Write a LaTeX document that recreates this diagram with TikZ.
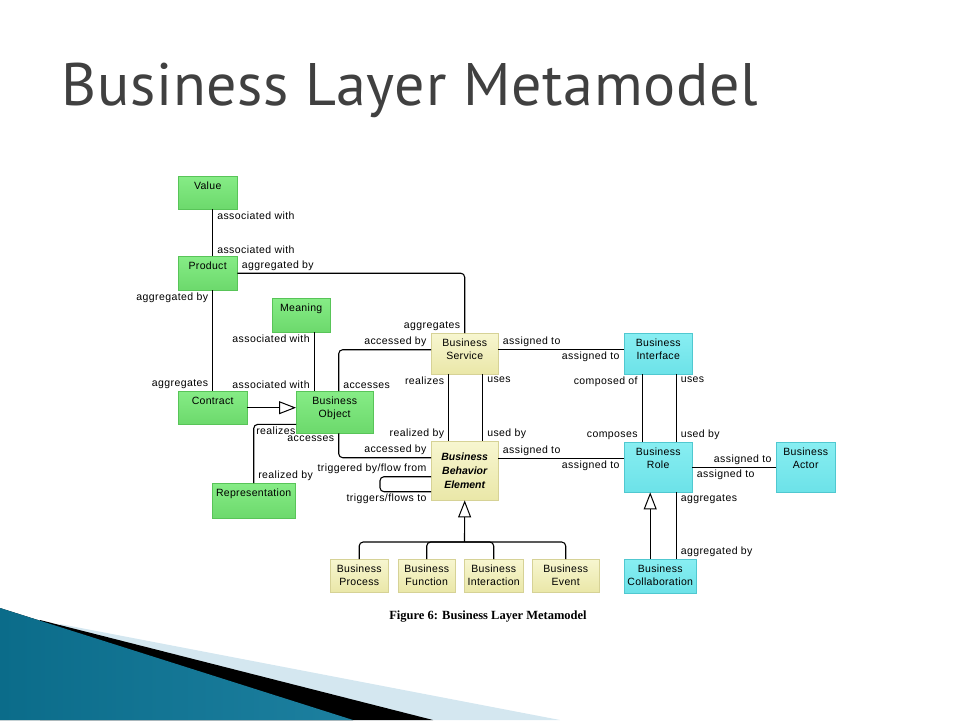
\documentclass[tikz,border=0pt]{standalone}
\usepackage{fontspec}
\setmainfont{Liberation Sans}
\newfontfamily\titlefont[LetterSpace=1.2]{PT Sans}
\newfontfamily\capfont{Liberation Serif}
\usetikzlibrary{arrows.meta}

\definecolor{gtop}{HTML}{86EC86}
\definecolor{gbot}{HTML}{6CD96C}
\definecolor{gline}{HTML}{58C458}
\definecolor{ytop}{HTML}{F7F6D0}
\definecolor{ybot}{HTML}{EAE7A8}
\definecolor{yline}{HTML}{D6D296}
\definecolor{ctop}{HTML}{88EEF2}
\definecolor{cbot}{HTML}{6CE2E8}
\definecolor{cline}{HTML}{50C8D0}
\definecolor{titlegray}{HTML}{404040}
\definecolor{swdark}{HTML}{0B6C8A}
\definecolor{swmid}{HTML}{45AED2}
\definecolor{swlight}{HTML}{D4E7F0}

% top-aligned stack of lines inside a box
\newcommand{\stacked}[1]{\begin{tabular}[t]{@{}c@{}}#1\end{tabular}}

\tikzset{
  box/.style={draw, anchor=north west, inner sep=2pt, text height=11pt,
    font=\fontsize{10.5}{13}\selectfont\addfontfeatures{LetterSpace=3}},
  gbox/.style={box, draw=gline, top color=gtop, bottom color=gbot},
  ybox/.style={box, draw=yline, top color=ytop, bottom color=ybot},
  cbox/.style={box, draw=cline, top color=ctop, bottom color=cbot},
  conn/.style={line width=1.1pt, rounded corners=4pt},
  isa/.style={conn, -{Triangle[open, length=17pt, width=13pt, line width=1pt]}},
  lbl/.style={font=\fontsize{10.5}{12}\selectfont\addfontfeatures{LetterSpace=4},
    inner xsep=4pt, inner ysep=2pt}
}

\begin{document}
\begin{tikzpicture}[x=1pt, y=-1pt]
\useasboundingbox (0,0) rectangle (960,720);

% corner swoosh
\fill[swlight] (60,624) -- (560,720) -- (60,720) -- cycle;
\fill[black] (40,620) -- (433,720) -- (40,720) -- cycle;
\fill[left color=swdark, middle color=swmid, right color=swdark!70!swmid]
  (0,608) -- (353,720) -- (0,720) -- cycle;

\node (title) [anchor=base west, text=titlegray,
  font=\titlefont\fontsize{60}{60}\selectfont] at (58,105) {Business Layer Metamodel};

% passive structure
\node (value) [gbox, minimum width=59pt, text depth=18pt] at (178,176) {Value};
\node (product) [gbox, minimum width=59pt, text depth=19pt] at (178,256) {Product};
\node (meaning) [gbox, minimum width=58pt, text depth=19pt] at (272,298) {Meaning};
\node (contract) [gbox, minimum width=69pt, text depth=18pt] at (178,391) {Contract};
\node (bobj) [gbox, minimum width=77pt, text depth=27pt] at (296,391) {\stacked{Business\\Object}};
\node (repr) [gbox, minimum width=83pt, text depth=20pt] at (212,483) {Representation};

% behaviour
\node (service) [ybox, minimum width=67pt, text depth=26pt] at (431,333) {\stacked{Business\\Service}};
\node (behav) [ybox, minimum width=67pt, text height=17pt, text depth=38pt,
  font=\fontsize{10.5}{14}\selectfont\bfseries\itshape] at (431,441)
  {\stacked{Business\\Behavior\\Element}};
\node (proc) [ybox, minimum width=58pt, text depth=18pt] at (330,559) {\stacked{Business\\Process}};
\node (func) [ybox, minimum width=57pt, text depth=18pt] at (398,559) {\stacked{Business\\Function}};
\node (inter) [ybox, minimum width=59pt, text depth=18pt] at (464,559) {\stacked{Business\\Interaction}};
\node (event) [ybox, minimum width=67pt, text depth=18pt] at (532,559) {\stacked{Business\\Event}};

% active structure
\node (iface) [cbox, minimum width=68pt, text depth=26pt] at (624,333) {\stacked{Business\\Interface}};
\node (role) [cbox, minimum width=68pt, text depth=35pt] at (624,442) {\stacked{Business\\Role}};
\node (actor) [cbox, minimum width=59pt, text depth=35pt] at (776,442) {\stacked{Business\\Actor}};
\node (collab) [cbox, minimum width=72pt, text depth=19pt] at (624,559) {\stacked{Business\\Collaboration}};

\node (caption) [font=\capfont\bfseries\fontsize{12.5}{14}\selectfont]
  at (488,617) {Figure 6: Business Layer Metamodel};

% relations
\draw[conn] (value.south -| contract.north) -- (product.north -| contract.north)
  node[lbl, at start, below right] {associated with}
  node[lbl, at end, above right] {associated with};
\draw[conn] (product.south -| contract.north) -- (contract.north)
  node[lbl, at start, below left] {aggregated by}
  node[lbl, at end, above left] {aggregates};
\draw[conn] (product.east) -| (service.north)
  node[lbl, at start, above right] {aggregated by}
  node[lbl, at end, above left] {aggregates};
\draw[conn] (meaning.south) ++(13,0) coordinate (m1) -- (m1 |- bobj.north)
  node[lbl, at start, below left] {associated with}
  node[lbl, at end, above left] {associated with};
\draw[isa] (contract.east) -- (contract.east -| bobj.west);
\draw[conn] ([yshift=9pt]bobj.south west) -| (repr.north)
  node[lbl, pos=0.5, below right, inner xsep=2pt] {realizes}
  node[lbl, at end, above right] {realized by};
\draw[conn] ([xshift=4pt]bobj.north) |- ([yshift=4pt]service.west)
  node[lbl, at start, above right] {accesses}
  node[lbl, at end, above left] {accessed by};
\draw[conn] ([xshift=4pt]bobj.south) |- ([yshift=13pt]behav.west)
  node[lbl, at start, below left] {accesses}
  node[lbl, at end, above left] {accessed by};
\draw[conn] ([yshift=-6pt]behav.west) -- ++(-51,0)
  node[lbl, at start, above left] {triggered by/flow from}
  |- ([yshift=-21pt]behav.west)
  node[lbl, at end, below left] {triggers/flows to};
\draw[conn] ([xshift=-16pt]service.south) -- ([xshift=-16pt]behav.north)
  node[lbl, at start, below left] {realizes}
  node[lbl, at end, above left] {realized by};
\draw[conn] ([xshift=18pt]service.south) -- ([xshift=18pt]behav.north)
  node[lbl, at start, below right] {uses}
  node[lbl, at end, above right] {used by};
\draw[conn] ([yshift=4pt]service.east) -- ([yshift=4pt]iface.west)
  node[lbl, at start, above right] {assigned to}
  node[lbl, at end, below left] {assigned to};
\draw[conn] ([yshift=12.5pt]behav.east) -- ([yshift=9pt]role.west)
  node[lbl, at start, above right] {assigned to}
  node[lbl, at end, below left] {assigned to};
\draw[conn] ([xshift=-16pt]iface.south) -- ([xshift=-16pt]role.north)
  node[lbl, at start, below left] {composed of}
  node[lbl, at end, above left] {composes};
\draw[conn] ([xshift=18pt]iface.south) -- ([xshift=18pt]role.north)
  node[lbl, at start, below right] {uses}
  node[lbl, at end, above right] {used by};
\draw[conn] (role.east) -- (actor.west)
  node[lbl, at start, below right] {assigned to}
  node[lbl, at end, above left] {assigned to};
\draw[isa] (collab.north) ++(-10,0) coordinate (c1) -- (c1 |- role.south);
\draw[conn] ([xshift=18pt]role.south) -- ([xshift=16pt]collab.north)
  node[lbl, at start, below right] {aggregates}
  node[lbl, at end, above right] {aggregated by};

% specialisations of the behaviour element
\coordinate (fork) at (464.5,542);
\draw[isa] (fork) -- (behav.south);
\draw[conn] (proc.north) |- (fork) -| (event.north);
\draw[conn] (func.north) |- (fork);
\draw[conn] (inter.north) |- (fork);
\end{tikzpicture}
\end{document}
